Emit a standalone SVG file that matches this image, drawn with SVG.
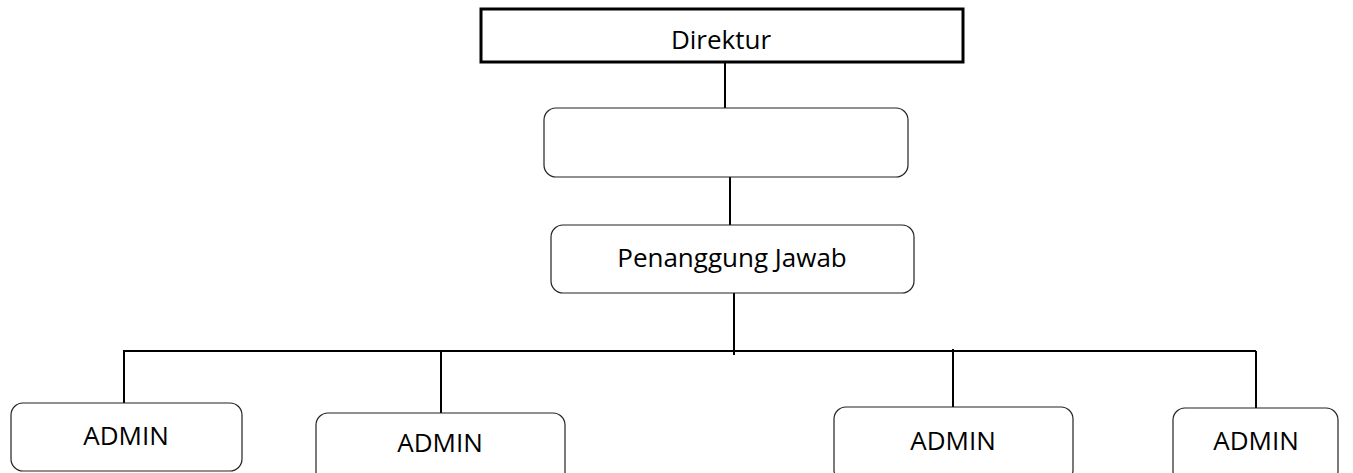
<svg xmlns="http://www.w3.org/2000/svg" width="1353" height="473" viewBox="0 0 1353 473">
<style>
.box{fill:#fff;stroke:#222;stroke-width:1.2}
.lbl{font-family:"Open Sans","Liberation Sans",sans-serif;font-size:26px;fill:#000;text-anchor:middle}
.con line{stroke:#000;stroke-width:2}
</style>
<rect width="1353" height="473" fill="#fff"/>
<g id="connectors" class="con">
<line x1="725" y1="62" x2="725" y2="108"/>
<line x1="730" y1="177" x2="730" y2="225"/>
<line x1="734" y1="293" x2="734" y2="355"/>
<line x1="123" y1="351" x2="1256" y2="351"/>
<line x1="124" y1="351" x2="124" y2="403"/>
<line x1="441" y1="351" x2="441" y2="413"/>
<line x1="953" y1="349" x2="953" y2="407"/>
<line x1="1256" y1="351" x2="1256" y2="408"/>
</g>
<g id="direktur">
<rect x="481" y="9" width="482" height="53" fill="#fff" stroke="#000" stroke-width="3"/>
<text class="lbl" x="721" y="49" font-size="24">Direktur</text>
</g>
<g id="blank">
<rect class="box" x="544" y="108" width="364" height="69" rx="12"/>
</g>
<g id="penanggung">
<rect class="box" x="551" y="225" width="363" height="68" rx="12"/>
<text class="lbl" x="732" y="267" font-size="25.5">Penanggung Jawab</text>
</g>
<g id="admin1">
<rect class="box" x="11" y="403" width="231" height="68" rx="12"/>
<text class="lbl" x="126" y="445">ADMIN</text>
</g>
<g id="admin2">
<rect class="box" x="316" y="413" width="249" height="75" rx="12"/>
<text class="lbl" x="440" y="452">ADMIN</text>
</g>
<g id="admin3">
<rect class="box" x="834" y="407" width="239" height="75" rx="12"/>
<text class="lbl" x="953" y="450">ADMIN</text>
</g>
<g id="admin4">
<rect class="box" x="1173" y="408" width="165" height="75" rx="12"/>
<text class="lbl" x="1256" y="450">ADMIN</text>
</g>
</svg>
